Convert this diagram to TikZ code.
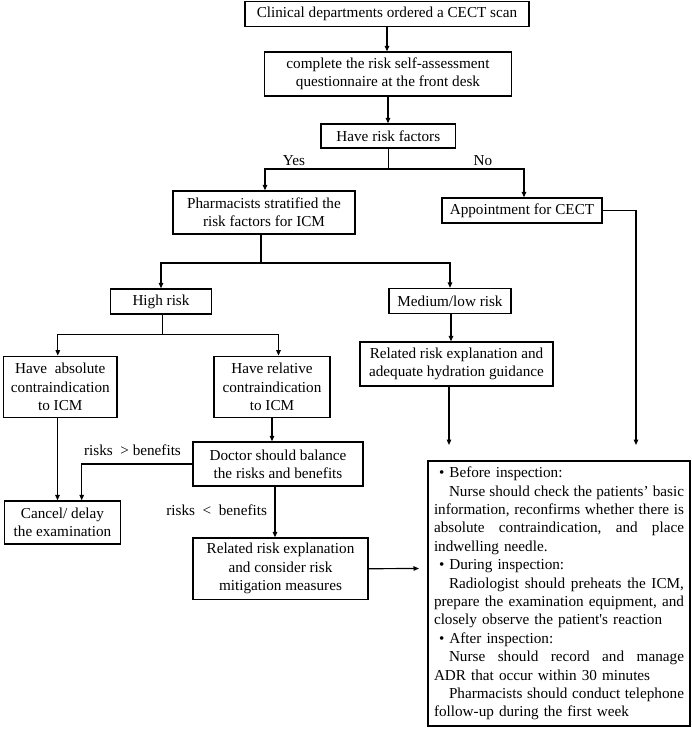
\documentclass[tikz,border=0pt]{standalone}
\usepackage{fontspec}
\setmainfont{Liberation Serif}
\newfontfamily\nomapfont{Liberation Serif}[Ligatures=TeXOff]
\usetikzlibrary{arrows.meta,calc}
\newcommand\fs{\fontsize{15.2pt}{18.4pt}\selectfont}
\newcommand\jline[1]{\leavevmode\hbox to 250pt{#1}}
\newcommand\sq{{\nomapfont'}}
\begin{document}
\begin{tikzpicture}[x=1pt,y=-1pt,
  box/.style={draw,line width=1.3pt,inner sep=0pt,align=center,font=\fs},
  lbl/.style={inner sep=0pt,font=\fs},
  conn/.style={line width=1.2pt},
  arr/.style={line width=1.2pt,-{Triangle[length=5.5pt,width=4.5pt]}},
  bigbox/.style={draw,line width=1.3pt,inner xsep=6pt,inner ysep=0pt,align=left,text width=250pt,minimum height=265pt,font=\fs}
]
\useasboundingbox (0,0) rectangle (692,729);

\node[box,minimum width=284pt,minimum height=24.5pt] (n1) at (387,14) {Clinical departments ordered a CECT scan};
\node[box,minimum width=246.5pt,minimum height=44pt] (n2) at (388,74) {complete the risk self-assessment\\questionnaire at the front desk};
\node[box,minimum width=134.5pt,minimum height=24pt] (n3) at (388.3,136) {Have risk factors};
\node[box,minimum width=182pt,minimum height=43pt] (n4) at (264,212.5) {Pharmacists stratified the\\risk factors for ICM};
\node[box,minimum width=160pt,minimum height=25pt] (n5) at (522,210.5) {Appointment for CECT};
\node[box,minimum width=101pt,minimum height=25pt] (n6) at (161,301.5) {High risk};
\node[box,minimum width=122pt,minimum height=25pt] (n7) at (450,301) {Medium/low risk};
\node[box,minimum width=113.5pt,minimum height=61.5pt] (n8) at (60.3,387) {Have\ \ absolute\\contraindication\\to ICM};
\node[box,minimum width=116pt,minimum height=61.5pt] (n9) at (272,387) {Have relative\\contraindication\\to ICM};
\node[box,minimum width=193pt,minimum height=44pt] (n10) at (456.5,364) {Related risk explanation and\\adequate hydration guidance};
\node[box,minimum width=170pt,minimum height=44pt] (n11) at (278,464) {Doctor should balance\\the risks and benefits};
\node[box,minimum width=116.5pt,minimum height=43pt] (n12) at (62.5,522.5) {Cancel/ delay\\the examination};
\node[box,minimum width=175pt,minimum height=61.3pt] (n13) at (280.5,568.7) {Related risk explanation\\and consider risk\\mitigation measures};
\node[bigbox] (n14) at (559,593.5) {%
\hspace*{5pt}•~Before inspection:\\
\jline{\hspace*{15pt}Nurse\hfill should\hfill check\hfill the\hfill patients’\hfill basic}\\
\jline{information,\hfill reconfirms\hfill whether\hfill there\hfill is}\\
\jline{absolute\hfill contraindication,\hfill and\hfill place}\\
indwelling needle.\\
\hspace*{5pt}•~During inspection:\\
\jline{\hspace*{15pt}Radiologist\hfill should\hfill preheats\hfill the\hfill ICM,}\\
\jline{prepare\hfill the\hfill examination\hfill equipment,\hfill and}\\
closely observe the patient\sq s reaction\\
\hspace*{5pt}•~After inspection:\\
\jline{\hspace*{15pt}Nurse\hfill should\hfill record\hfill and\hfill manage}\\
ADR that occur within 30 minutes\\
\jline{\hspace*{15pt}Pharmacists\hfill should\hfill conduct\hfill telephone}\\
follow-up during the first week};

\node[lbl] (yes) at (294,161) {Yes};
\node[lbl] (no) at (483,161) {No};
\node[lbl] (gt) at (132.5,450) {risks\ \ > benefits};
\node[lbl] (lt) at (216.7,510) {risks\ \ <\ \ benefits};

\coordinate (s1) at (388.3,169);
\coordinate (s2) at (261,263);
\coordinate (s3) at (162.5,334.3);
\coordinate (k1) at (81.7,0);
\coordinate (e1) at (636,445);
\coordinate (e2) at (449,445);
\coordinate (e3) at (419,568.5);

\draw[arr] (n1.south) -- (n1.south |- n2.north);
\draw[arr] (n2.south) -- (n2.south |- n3.north);
\draw[conn] (n3.south) -- (s1);
\draw[arr] (s1) -| ([xshift=1pt]n4.north);
\draw[arr] (s1) -| ([xshift=2pt]n5.north);
\draw[arr] (n5.east) -| (e1);
\draw[conn] (s2 |- n4.south) -- (s2);
\draw[arr] (s2) -| (n6.north);
\draw[arr] (s2) -| (n7.north);
\draw[conn] (s3 |- n6.south) -- (s3);
\draw[arr] (s3) -| ([xshift=-2.5pt]n8.north);
\draw[arr] (s3) -| ([xshift=6.5pt]n9.north);
\draw[arr] ([xshift=1pt]n7.south) -- ([xshift=1pt]n7.south |- n10.north);
\draw[arr] (n10.south -| e2) -- (e2);
\draw[arr] (n9.south) -- (n9.south |- n11.north);
\draw[arr] ([xshift=-2.8pt]n8.south) -- ([xshift=-2.8pt]n8.south |- n12.north);
\draw[arr] (n11.west) -| (k1 |- n12.north);
\draw[arr] ([xshift=-3pt]n11.south) -- ([xshift=-3pt]n11.south |- n13.north);
\draw[arr] (n13.east) -- (e3);
\end{tikzpicture}
\end{document}
